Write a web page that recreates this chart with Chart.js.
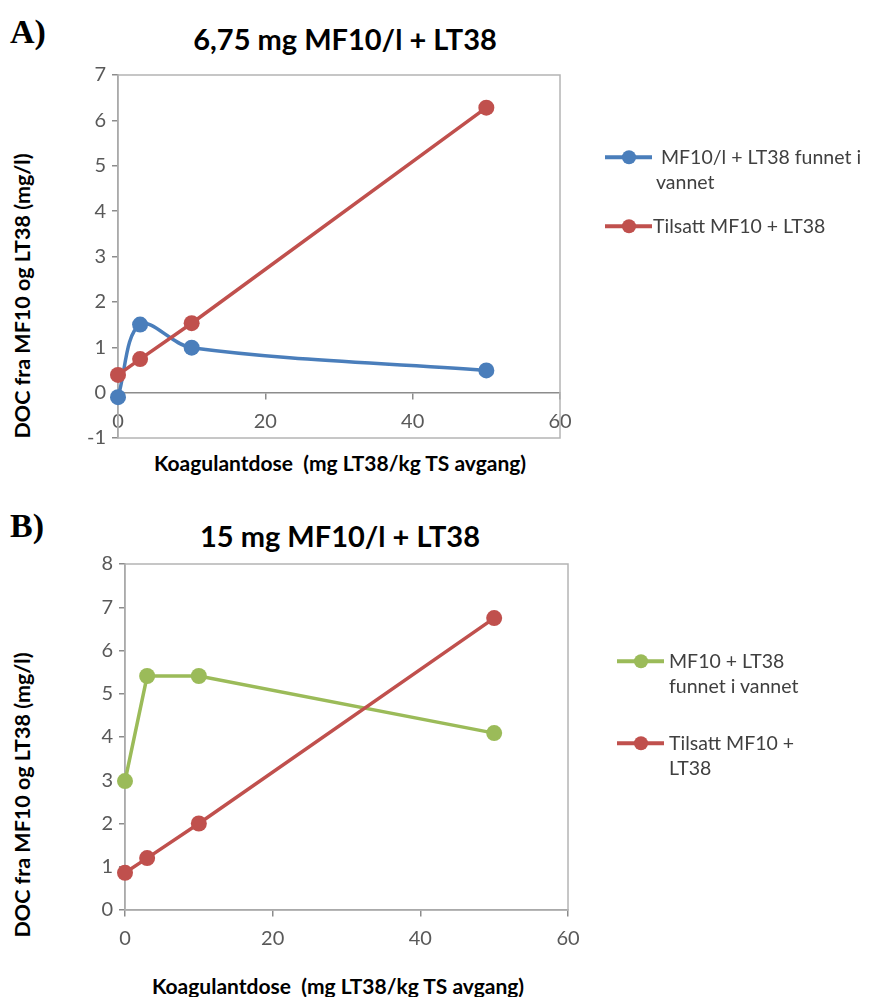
<!DOCTYPE html>
<html lang="no">
<head>
<meta charset="UTF-8">
<title>DOC fra MF10 og LT38</title>
<script src="https://cdn.jsdelivr.net/npm/chart.js@4.4.1/dist/chart.umd.min.js"></script>
<style>
  body { margin: 0; background: #fff; font-family: Lato, 'Open Sans', sans-serif; }
  #page { position: relative; width: 877px; height: 997px; overflow: hidden; }
  .panel { position: absolute; left: 0; width: 877px; }
  .tag { position: absolute; left: 10px; font-family: 'Liberation Serif', serif; font-weight: bold; font-size: 34px; transform: translateY(-50%); }
  .title { position: absolute; font-weight: bold; font-size: 29px; color: #000; transform: translate(-50%, -50%); white-space: nowrap; }
  .xtitle { position: absolute; font-weight: bold; font-size: 21px; color: #000; transform: translate(-50%, -50%); white-space: pre; }
  .ytitle { position: absolute; font-weight: bold; font-size: 21.5px; color: #000; transform: translate(-50%, -50%) rotate(-90deg); white-space: nowrap; }
  .lg { position: absolute; font-size: 19.5px; color: #404040; line-height: 25px; }
  .sym { position: absolute; height: 3.5px; width: 47px; transform: translateY(-50%); }
  .sym i { position: absolute; left: 16.5px; top: -5.5px; width: 14px; height: 14px; border-radius: 50%; background: inherit; }
</style>
</head>
<body>
<div id="page">
  <div class="tag" style="top:32px">A)</div>
  <div class="title" style="left:345px; top:38px">6,75 mg MF10/l + LT38</div>
  <div class="ytitle" style="left:22px; top:296px">DOC fra MF10 og LT38 (mg/l)</div>
  <div class="xtitle" style="left:340px; top:462px">Koagulantdose  (mg LT38/kg TS avgang)</div>
  <div class="panel" style="top:0; height:490px"><canvas id="chartA"></canvas></div>

  <div class="sym" style="left:605px; top:157px; background:#4a7ebb"><i></i></div>
  <div class="lg" style="left:656px; top:144px">&nbsp;MF10/l + LT38 funnet i<br>vannet</div>
  <div class="sym" style="left:605px; top:226px; background:#c0504d"><i></i></div>
  <div class="lg" style="left:653px; top:213px">Tilsatt MF10 + LT38</div>

  <div class="tag" style="top:526px">B)</div>
  <div class="title" style="left:340px; top:535px">15 mg MF10/l + LT38</div>
  <div class="ytitle" style="left:22px; top:795px">DOC fra MF10 og LT38 (mg/l)</div>
  <div class="xtitle" style="left:338px; top:985px">Koagulantdose  (mg LT38/kg TS avgang)</div>
  <div class="panel" style="top:490px; height:507px"><canvas id="chartB"></canvas></div>

  <div class="sym" style="left:617px; top:661px; background:#9bbb59"><i></i></div>
  <div class="lg" style="left:669px; top:648px">MF10 + LT38<br>funnet i vannet</div>
  <div class="sym" style="left:617px; top:743px; background:#c0504d"><i></i></div>
  <div class="lg" style="left:669px; top:730px">Tilsatt MF10 +<br>LT38</div>
</div>

<script>
// koagulantdose (mg LT38/kg TS avgang)
const doseA = [0, 3, 10, 50];
const doseB = [0, 3, 10, 50];

// A) 6,75 mg MF10/l + LT38
const funnetA = [-0.1, 1.5, 0.99, 0.49];
const tilsattA = [0.39, 0.74, 1.53, 6.28];

// B) 15 mg MF10/l + LT38
const funnetB = [2.98, 5.41, 5.41, 4.09];
const tilsattB = [0.86, 1.2, 2.0, 6.75];

const xTicks = [0, 20, 40, 60];
const yTicksA = [-1, 0, 1, 2, 3, 4, 5, 6, 7];
const yTicksB = [0, 1, 2, 3, 4, 5, 6, 7, 8];

const BLUE = '#4a7ebb';
const RED = '#c0504d';
const GREEN = '#9bbb59';
const AXIS = '#8c8c8c';

// frame round the plot area, like Excel
const plotFrame = {
    id: 'plotFrame',
    beforeDatasetsDraw(chart) {
        const a = chart.chartArea;
        const ctx = chart.ctx;
        ctx.save();
        ctx.strokeStyle = '#b4b4b4';
        ctx.lineWidth = 1.5;
        ctx.strokeRect(a.left, a.top, a.right - a.left, a.bottom - a.top);
        ctx.restore();
    }
};

function series(xs, ys, color, order, tension) {
    return {
        data: xs.map((x, i) => ({ x: x, y: ys[i] })),
        borderColor: color,
        backgroundColor: color,
        borderWidth: 3.5,
        pointRadius: 8,
        pointBorderWidth: 0,
        tension: tension,
        order: order,
        clip: false
    };
}

function makeChart(id, datasets, yTicks, pad) {
    const yMin = yTicks[0], yMax = yTicks[yTicks.length - 1];
    new Chart(document.getElementById(id), {
        type: 'line',
        data: { datasets: datasets },
        plugins: [plotFrame],
        options: {
            responsive: true,
            maintainAspectRatio: false,
            animation: false,
            layout: { padding: pad },
            plugins: { legend: { display: false }, tooltip: { enabled: false } },
            scales: {
                x: {
                    type: 'linear',
                    position: { y: 0 },
                    min: xTicks[0],
                    max: xTicks[xTicks.length - 1],
                    afterBuildTicks: s => { s.ticks = xTicks.map(v => ({ value: v })); },
                    afterFit: s => { s.paddingLeft = 0; s.paddingRight = 0; },
                    border: { color: AXIS, width: 1.5 },
                    grid: { drawOnChartArea: false, tickLength: 6, color: AXIS, lineWidth: 1.5 },
                    ticks: { padding: 11, color: '#595959', font: { family: 'Lato', size: 20 } }
                },
                y: {
                    min: yMin,
                    max: yMax,
                    afterBuildTicks: s => { s.ticks = yTicks.map(v => ({ value: v })); },
                    afterFit: s => { s.width = 40; s.paddingTop = 0; s.paddingBottom = 0; },
                    border: { color: AXIS, width: 1.5 },
                    grid: { drawOnChartArea: false, tickLength: 6, color: AXIS, lineWidth: 1.5 },
                    ticks: { padding: 6, color: '#595959', font: { family: 'Lato', size: 20 } }
                }
            }
        }
    });
}

makeChart('chartA', [
    series(doseA, funnetA, BLUE, 2, 0.35),
    series(doseA, tilsattA, RED, 1, 0)
], yTicksA, { left: 78, right: 317, top: 75, bottom: 52 });

makeChart('chartB', [
    series(doseB, funnetB, GREEN, 2, 0),
    series(doseB, tilsattB, RED, 1, 0)
], yTicksB, { left: 85, right: 309, top: 74, bottom: 87 });
</script>
</body>
</html>
